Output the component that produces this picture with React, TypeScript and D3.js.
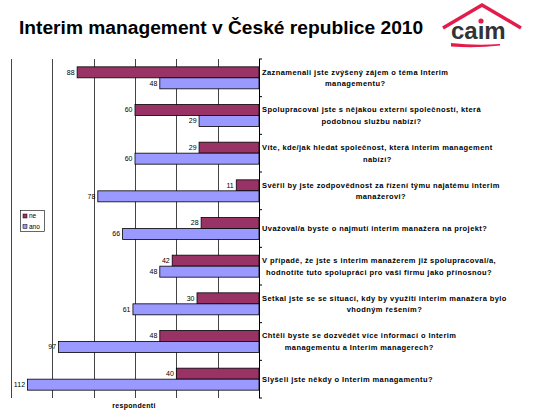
import React from "react";
import * as d3 from "d3";

const categories: string[][] = [
  ["Zaznamenali jste zvýšený zájem o téma Interim", "managementu?"],
  ["Spolupracoval jste s nějakou externí společností, která", "podobnou službu nabízí?"],
  ["Víte, kde/jak hledat společnost, která interim management", "nabízí?"],
  ["Svěřil by jste zodpovědnost za řízení týmu najatému interim", "manažerovi?"],
  ["Uvažoval/a byste o najmutí interim manažera na projekt?"],
  ["V případě, že jste s interim manažerem již spolupracoval/a,", "hodnotíte tuto spolupráci pro vaši firmu jako přínosnou?"],
  ["Setkal jste se se situací, kdy by využití interim manažera bylo", "vhodným řešením?"],
  ["Chtěli byste se dozvědět více informací o Interim", "managementu a Interim managerech?"],
  ["Slyšeli jste někdy o Interim managamentu?"],
];
const neValues = [88, 60, 29, 11, 28, 42, 30, 48, 40];
const anoValues = [48, 29, 60, 78, 66, 48, 61, 97, 112];
const seriesNames = ["ne", "ano"];
const seriesColors = ["#993366", "#9999FF"];
const xTicks = [0, 20, 40, 60, 80, 100, 120];
const title = "Interim management v České republice 2010";
const axisTitle = "respondenti";

const FONT = "'Liberation Sans', Arial, sans-serif";
const LABEL_SIZE = 7.5;
const LABEL_LS = 0.42;

let ctx: CanvasRenderingContext2D | null = null;
function measure(text: string, font: string, ls = 0): number {
  if (!ctx) ctx = document.createElement("canvas").getContext("2d");
  if (!ctx) return text.length * 4;
  ctx.font = font;
  return ctx.measureText(text).width + ls * text.length;
}

export default function App() {
  const W = 537, H = 420;
  const x0 = 259, xLeft = 11;
  const top = 59, bottom = 398;
  const x = d3.scaleLinear().domain([0, 120]).range([x0, xLeft]);
  const idx = categories.map((_, i) => String(i));
  const y = d3.scaleBand().domain(idx).range([top, bottom]).paddingInner(0.416).paddingOuter(0.208);
  const ySub = d3.scaleBand().domain(seriesNames).range([0, y.bandwidth()]);
  const step = y.step();
  const series = [neValues, anoValues];
  const labelFont = `bold ${LABEL_SIZE}px ${FONT}`;

  const logoX = 451;
  const logoFont = `bold 24px ${FONT}`;
  const caW = measure("ca", logoFont);
  const iW = measure("ı", logoFont);

  return (
    <div style={{ position: "absolute", left: 0, top: 0 }}>
      <svg width={W} height={H} style={{ display: "block", background: "#fff" }} fontFamily={FONT}>
        <rect width={W} height={H} fill="#fff" />
        <text x={19} y={34} fontSize={19.2} fontWeight="bold" fill="#000">{title}</text>
        {/* logo */}
        <g>
          <polyline points="443,28 482,5 521,28" fill="none" stroke="#e31c4b" strokeWidth={3.5} strokeLinejoin="miter" />
          <text x={logoX} y={39} fontSize={24} fontWeight="bold" fill="#333">caım</text>
          <circle cx={logoX + caW + iW / 2} cy={21} r={2.6} fill="#e31c4b" />
          <path d="M451,43 Q476,46 500,44 L500,45.5 Q476,48.5 451,46.5 Z" fill="#e31c4b" />
        </g>
        {/* gridlines */}
        {xTicks.filter((t) => t > 0).map((t) => (
          <line key={t} x1={Math.round(x(t)) + 0.5} x2={Math.round(x(t)) + 0.5} y1={top} y2={bottom} stroke="#444" strokeWidth={1} />
        ))}
        {/* bars */}
        {series.map((vals, s) =>
          vals.map((v, i) => {
            const yy = (y(String(i)) as number) + (ySub(seriesNames[s]) as number);
            return (
              <rect key={`${s}-${i}`} x={x(v)} y={yy} width={x(0) - x(v)} height={ySub.bandwidth()}
                fill={seriesColors[s]} stroke="#000" strokeWidth={0.8} />
            );
          })
        )}
        {/* data labels */}
        {series.map((vals, s) =>
          vals.map((v, i) => {
            const yy = (y(String(i)) as number) + (ySub(seriesNames[s]) as number) + ySub.bandwidth() / 2;
            return (
              <text key={`l${s}-${i}`} x={x(v) - 2.5} y={yy} dy="0.35em" textAnchor="end" fontSize={7} fill="#000">{v}</text>
            );
          })
        )}
        {/* category axis */}
        <line x1={x0 + 0.5} x2={x0 + 0.5} y1={top} y2={bottom} stroke="#000" strokeWidth={1} />
        {d3.range(categories.length + 1).map((k) => (
          <line key={k} x1={x0} x2={x0 + 3} y1={top + k * step} y2={top + k * step} stroke="#000" strokeWidth={1} />
        ))}
        {/* category labels */}
        {categories.map((lines, i) => {
          const maxW = d3.max(lines, (l) => measure(l, labelFont, LABEL_LS)) || 0;
          const cx = 262 + maxW / 2;
          const cy = (y(String(i)) as number) + y.bandwidth() / 2;
          const lh = 11.6;
          return (
            <text key={`c${i}`} fontSize={LABEL_SIZE} fontWeight="bold" fill="#000" textAnchor="middle" letterSpacing={LABEL_LS}>
              {lines.map((l, j) => (
                <tspan key={j} x={cx} y={cy + (j - (lines.length - 1) / 2) * lh} dy="0.35em">{l}</tspan>
              ))}
            </text>
          );
        })}
        {/* axis title */}
        <text x={134} y={406} dy="0.35em" textAnchor="middle" fontSize={7} fontWeight="bold" fill="#000" letterSpacing={0.3}>{axisTitle}</text>
        {/* legend */}
        <g>
          <rect x={20.5} y={210.5} width={24} height={21} fill="#fff" stroke="#000" strokeWidth={0.6} />
          {seriesNames.map((n, k) => (
            <g key={n}>
              <rect x={23} y={214 + k * 10.5} width={4} height={4} fill={seriesColors[k]} stroke="#000" strokeWidth={0.5} />
              <text x={29} y={216 + k * 10.5} dy="0.35em" fontSize={6.5} fill="#000">{n}</text>
            </g>
          ))}
        </g>
      </svg>
    </div>
  );
}
